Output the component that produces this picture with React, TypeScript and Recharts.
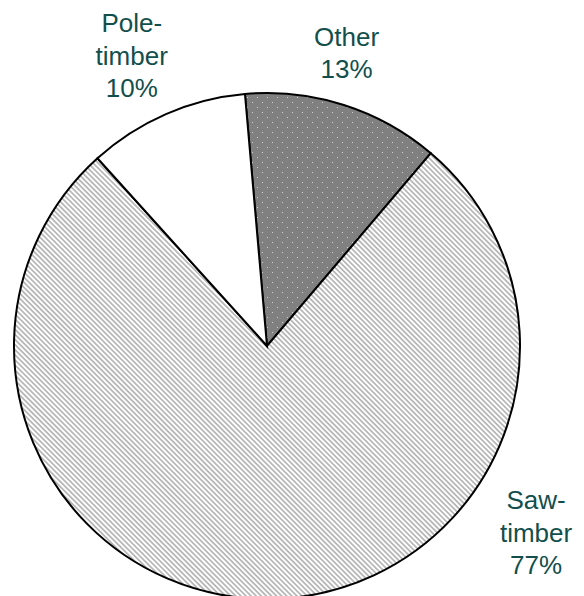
import { PieChart, Pie, Cell } from 'recharts';

// slices in clockwise order, starting just left of 12 o'clock
const categories = ['Other', 'Saw-timber', 'Pole-timber'];
const shares = [12.6, 77.1, 10.3];

// where each label block sits: angle (deg) and distance as a multiple of the radius
const labelAngles = [74.8, -34.8, 115];
const labelDistances = [1.2, 1.295, 1.265];

const fills = ['url(#dots)', 'url(#stripes)', '#ffffff'];

const data = categories.map((name, i) => ({ name, value: shares[i] }));

const RADIAN = Math.PI / 180;
const FONT_SIZE = 26;
const LINE_HEIGHT = 32.5;

// "Saw-timber" -> ["Saw-", "timber"]
const splitName = (name: string) => {
  const i = name.indexOf('-');
  return i < 0 ? [name] : [name.slice(0, i + 1), name.slice(i + 1)];
};

const renderLabel = (props: any) => {
  const { cx, cy, outerRadius, index, name, percent } = props;
  const angle = labelAngles[index];
  const r = outerRadius * labelDistances[index];
  const x = cx + r * Math.cos(-angle * RADIAN);
  const y = cy + r * Math.sin(-angle * RADIAN);
  const lines = [...splitName(name), `${Math.round(percent * 100)}%`];
  const top = y - ((lines.length - 1) / 2) * LINE_HEIGHT;
  return (
    <text
      key={`label-${index}`}
      x={x}
      y={top}
      textAnchor="middle"
      dominantBaseline="central"
      fill="#124f4c"
      fontSize={FONT_SIZE}
      fontFamily="'Liberation Sans', Arial, sans-serif"
    >
      {lines.map((line, i) => (
        <tspan key={i} x={x} dy={i === 0 ? 0 : LINE_HEIGHT}>
          {line}
        </tspan>
      ))}
    </text>
  );
};

export default function App() {
  return (
    <div style={{ position: 'absolute', left: 0, top: 0, background: '#fff' }}>
      <PieChart width={584} height={596} margin={{ top: 0, right: 0, bottom: 0, left: 0 }}>
        <defs>
          <pattern id="dots" width="10" height="10" patternUnits="userSpaceOnUse">
            <rect width="10" height="10" fill="#808080" />
            <rect x="2" y="2" width="1" height="1" fill="#d0d0d0" />
            <rect x="7" y="7" width="1" height="1" fill="#d0d0d0" />
          </pattern>
          <pattern
            id="stripes"
            width="3.6"
            height="3.6"
            patternUnits="userSpaceOnUse"
            patternTransform="rotate(-45)"
          >
            <rect width="3.6" height="3.6" fill="#ffffff" />
            <rect width="1.8" height="3.6" fill="#b8b8b8" />
          </pattern>
        </defs>
        <Pie
          data={data}
          dataKey="value"
          nameKey="name"
          cx={267}
          cy={346}
          outerRadius={253}
          startAngle={95}
          endAngle={-265}
          stroke="#000"
          strokeWidth={2}
          labelLine={false}
          label={renderLabel}
          isAnimationActive={false}
        >
          {data.map((entry, index) => (
            <Cell key={`cell-${index}`} fill={fills[index]} />
          ))}
        </Pie>
      </PieChart>
    </div>
  );
}
